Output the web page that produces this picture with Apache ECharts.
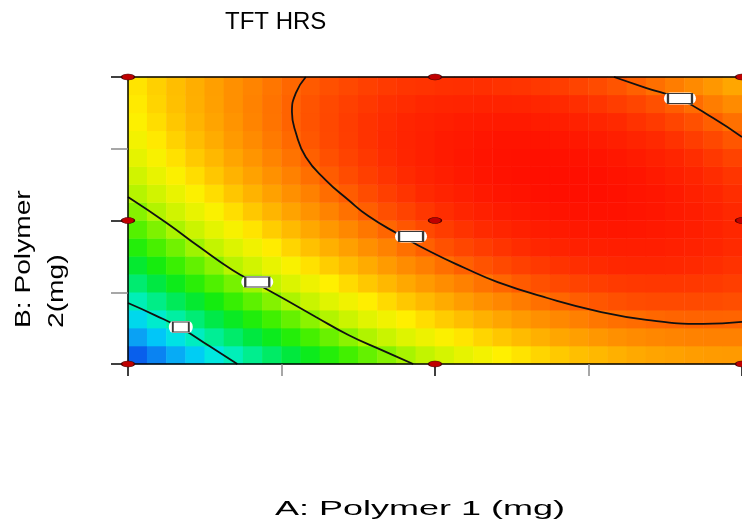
<!DOCTYPE html>
<html>
<head>
<meta charset="utf-8">
<script src="https://cdn.jsdelivr.net/npm/echarts@6/dist/echarts.min.js"></script>
<style>
html,body{margin:0;padding:0;background:#ffffff;}
#chart{width:742px;height:525px;}
</style>
</head>
<body>
<div id="chart"></div>
<script>
// Coded levels of factor A (Polymer 1) at the centre of each heatmap column
const polymer1Levels = [-0.969,-0.906,-0.844,-0.781,-0.719,-0.656,-0.594,-0.531,-0.469,-0.406,-0.344,-0.281,-0.219,-0.156,-0.094,-0.031,
                         0.031,0.094,0.156,0.219,0.281,0.344,0.406,0.469,0.531,0.594,0.656,0.719,0.781,0.844,0.906,0.969];
// Coded levels of factor B (Polymer 2) at the centre of each heatmap row (bottom to top)
const polymer2Levels = [-0.938,-0.813,-0.688,-0.563,-0.438,-0.313,-0.188,-0.063,0.063,0.188,0.313,0.438,0.563,0.688,0.813,0.938];

// TFT HRS response read from the colour field, one row per Polymer 2 level (bottom row first)
const tftRows = [
 [4.68,4.99,5.28,5.57,5.85,6.12,6.38,6.62,6.86,7.09,7.31,7.51,7.71,7.90,8.08,8.24,8.40,8.55,8.69,8.82,8.93,9.04,9.14,9.23,9.30,9.37,9.43,9.48,9.51,9.54,9.56,9.57],
 [5.20,5.50,5.79,6.07,6.34,6.59,6.84,7.08,7.31,7.53,7.74,7.93,8.12,8.30,8.47,8.63,8.78,8.91,9.04,9.16,9.27,9.37,9.46,9.53,9.60,9.66,9.71,9.75,9.77,9.79,9.80,9.80],
 [5.69,5.98,6.26,6.53,6.79,7.04,7.28,7.50,7.72,7.93,8.13,8.32,8.50,8.67,8.83,8.98,9.12,9.24,9.36,9.47,9.57,9.66,9.74,9.81,9.87,9.92,9.95,9.98,10.00,10.01,10.01,10.00],
 [6.14,6.42,6.69,6.95,7.20,7.44,7.67,7.89,8.10,8.30,8.49,8.67,8.84,9.00,9.15,9.29,9.42,9.54,9.65,9.75,9.84,9.92,9.99,10.05,10.10,10.14,10.17,10.19,10.19,10.19,10.18,10.16],
 [6.56,6.83,7.10,7.35,7.59,7.82,8.04,8.25,8.45,8.64,8.82,8.99,9.15,9.30,9.44,9.57,9.69,9.80,9.90,9.99,10.07,10.14,10.20,10.25,10.29,10.32,10.34,10.35,10.35,10.34,10.32,10.29],
 [6.95,7.21,7.46,7.70,7.93,8.16,8.37,8.57,8.76,8.94,9.11,9.27,9.42,9.56,9.70,9.82,9.93,10.03,10.12,10.20,10.27,10.33,10.38,10.42,10.45,10.48,10.49,10.49,10.48,10.46,10.43,10.39],
 [7.30,7.55,7.79,8.03,8.25,8.46,8.66,8.85,9.04,9.21,9.37,9.52,9.66,9.79,9.92,10.03,10.13,10.22,10.30,10.37,10.44,10.49,10.53,10.56,10.58,10.59,10.59,10.59,10.57,10.54,10.50,10.45],
 [7.62,7.86,8.09,8.32,8.53,8.73,8.92,9.11,9.28,9.44,9.59,9.74,9.87,9.99,10.10,10.20,10.30,10.38,10.45,10.51,10.57,10.61,10.64,10.66,10.67,10.68,10.67,10.65,10.62,10.59,10.54,10.48],
 [7.90,8.13,8.36,8.57,8.77,8.97,9.15,9.32,9.49,9.64,9.78,9.91,10.04,10.15,10.25,10.35,10.43,10.50,10.57,10.62,10.66,10.69,10.72,10.73,10.73,10.73,10.71,10.68,10.64,10.60,10.54,10.47],
 [8.15,8.37,8.59,8.79,8.98,9.17,9.34,9.51,9.66,9.80,9.94,10.06,10.17,10.28,10.37,10.46,10.53,10.59,10.65,10.69,10.72,10.75,10.76,10.76,10.76,10.74,10.71,10.68,10.63,10.57,10.51,10.43],
 [8.36,8.58,8.78,8.98,9.16,9.34,9.50,9.65,9.80,9.93,10.06,10.17,10.28,10.37,10.45,10.53,10.59,10.65,10.69,10.73,10.75,10.76,10.77,10.76,10.75,10.72,10.69,10.64,10.58,10.52,10.44,10.36],
 [8.54,8.75,8.94,9.13,9.30,9.47,9.62,9.77,9.90,10.03,10.14,10.25,10.34,10.43,10.50,10.57,10.62,10.67,10.70,10.73,10.74,10.75,10.74,10.73,10.70,10.67,10.62,10.57,10.50,10.43,10.34,10.25],
 [8.69,8.88,9.07,9.25,9.41,9.57,9.71,9.85,9.97,10.09,10.20,10.29,10.38,10.45,10.52,10.57,10.62,10.65,10.68,10.70,10.70,10.70,10.68,10.66,10.62,10.58,10.52,10.46,10.39,10.30,10.21,10.10],
 [8.80,8.98,9.16,9.33,9.48,9.63,9.77,9.89,10.01,10.12,10.21,10.30,10.38,10.44,10.50,10.54,10.58,10.61,10.62,10.63,10.63,10.61,10.59,10.55,10.51,10.46,10.39,10.32,10.23,10.14,10.04,9.92],
 [8.87,9.05,9.22,9.38,9.52,9.66,9.79,9.90,10.01,10.11,10.20,10.27,10.34,10.40,10.44,10.48,10.51,10.52,10.53,10.53,10.52,10.49,10.46,10.42,10.36,10.30,10.23,10.14,10.05,9.95,9.83,9.71],
 [8.92,9.08,9.24,9.39,9.53,9.66,9.77,9.88,9.98,10.07,10.14,10.21,10.27,10.32,10.36,10.38,10.40,10.41,10.41,10.39,10.37,10.34,10.30,10.24,10.18,10.11,10.03,9.93,9.83,9.72,9.60,9.46]
];

// Contour lines, as [A, B] in coded units
const contourLow = [[-1,-0.575],[-0.913,-0.659],[-0.828,-0.749],[-0.735,-0.875],[-0.644,-1]];
const contourMid = [[-1,0.164],[-0.874,-0.017],[-0.767,-0.185],[-0.660,-0.345],[-0.579,-0.442],[-0.485,-0.554],[-0.388,-0.672],[-0.282,-0.798],[-0.175,-0.902],[-0.071,-1]];
const contourHigh = [[-0.421,1],[-0.453,0.889],[-0.466,0.756],[-0.453,0.610],[-0.421,0.443],[-0.356,0.282],[-0.282,0.143],[-0.217,0.031],[-0.120,-0.094],[-0.013,-0.220],[0.097,-0.331],[0.204,-0.429],[0.366,-0.540],[0.528,-0.631],[0.689,-0.693],[0.874,-0.721],[1,-0.707]];
const contourHighCorner = [[0.583,1],[0.689,0.923],[0.796,0.847],[0.906,0.714],[1,0.582]];

// Contour label spots [A, B]
const labelSpots = [[-0.828,-0.742],[-0.579,-0.429],[-0.078,-0.111],[0.798,0.850]];

// Design points (3x3 factorial)
const designA = [-1, 0, 1];
const designB = [-1, 0, 1];

const FONT = '"Liberation Sans", Arial, Helvetica, sans-serif';

const heatData = [];
tftRows.forEach((row, j) => row.forEach((v, k) => heatData.push([k, j, v])));
const designData = [];
designA.forEach(a => designB.forEach(b => designData.push([a, b])));

const lineStyleC = { color: '#111111', width: 1.8 };
function contourSeries(data) {
  return {
    type: 'line', xAxisIndex: 1, yAxisIndex: 1, data: data,
    smooth: 0.5, symbol: 'none', lineStyle: lineStyleC, z: 3, silent: true
  };
}
const valueAxisCommon = {
  type: 'value', min: -1, max: 1, interval: 1, z: 5,
  axisLine: { show: true, onZero: false, lineStyle: { color: '#000', width: 1.5 } },
  axisTick: { show: true, lineStyle: { color: '#000', width: 1.5 } },
  minorTick: { show: true, splitNumber: 2, lineStyle: { color: '#8a8a8a', width: 1.5 } },
  axisLabel: { show: false }, splitLine: { show: false }, minorSplitLine: { show: false }
};

const chart = echarts.init(document.getElementById('chart'), null, { renderer: 'canvas' });
chart.setOption({
  animation: false,
  backgroundColor: '#ffffff',
  grid: { left: 128, top: 77, width: 618, height: 287, containLabel: false },
  xAxis: [
    { type: 'category', data: polymer1Levels.map(String), position: 'top', z: 5,
      axisLine: { show: true, onZero: false, lineStyle: { color: '#000', width: 1.5 } },
      axisTick: { show: false }, axisLabel: { show: false }, splitLine: { show: false } },
    Object.assign({}, valueAxisCommon, { position: 'bottom',
      axisTick: Object.assign({}, valueAxisCommon.axisTick, { length: 12 }),
      minorTick: Object.assign({}, valueAxisCommon.minorTick, { length: 12 }) })
  ],
  yAxis: [
    { type: 'category', data: polymer2Levels.map(String), position: 'right', show: false },
    Object.assign({}, valueAxisCommon, { position: 'left',
      axisTick: Object.assign({}, valueAxisCommon.axisTick, { length: 17 }),
      minorTick: Object.assign({}, valueAxisCommon.minorTick, { length: 17 }) })
  ],
  visualMap: {
    type: 'continuous', show: false, min: 4.2, max: 10.8, dimension: 2, seriesIndex: 0,
    inRange: { color: [
      '#0630e0','#0850e8','#0a70f0','#0aa0f4','#00c8f8','#00e8e0','#00f0b0','#00ec78','#00e840','#10ec10','#40f000',
      '#78f200','#b8f400','#e0f400','#fff000','#ffc800','#ffa400','#ff8000','#ff5000','#ff2800','#ff0c00'] }
  },
  series: [
    { type: 'heatmap', xAxisIndex: 0, yAxisIndex: 0, data: heatData, silent: true,
      itemStyle: { borderWidth: 0 }, emphasis: { disabled: true }, progressive: 0 },
    contourSeries(contourLow),
    contourSeries(contourMid),
    contourSeries(contourHigh),
    contourSeries(contourHighCorner),
    { type: 'scatter', xAxisIndex: 1, yAxisIndex: 1, data: labelSpots, z: 4, silent: true, clip: false,
      symbol: 'path://M6,0 L26,0 A6,6 0 0 1 26,12 L6,12 A6,6 0 0 1 6,0 Z',
      symbolSize: (v, p) => p.dataIndex === 0 ? [24, 12] : [32, 12],
      itemStyle: { color: '#ffffff', opacity: 1 } },
    { type: 'scatter', xAxisIndex: 1, yAxisIndex: 1, data: labelSpots, z: 4, silent: true, clip: false,
      symbol: 'rect',
      symbolSize: (v, p) => p.dataIndex === 0 ? [16, 10] : [24, 10],
      itemStyle: { color: '#ffffff', borderColor: '#383838', borderWidth: 1.5, opacity: 1 } },
    { type: 'scatter', xAxisIndex: 1, yAxisIndex: 1, data: designData, z: 6, silent: true, clip: false,
      symbol: 'circle', symbolSize: [13, 6],
      itemStyle: { color: '#c00000', borderColor: '#4a0000', borderWidth: 1, opacity: 1 } }
  ],
  graphic: [
    { type: 'text', x: 225, y: 22, silent: true,
      style: { text: 'TFT HRS', font: '24px ' + FONT, fill: '#000',
               textAlign: 'left', textVerticalAlign: 'middle', align: 'left', verticalAlign: 'middle' } },
    { type: 'text', x: 275, y: 509.5, scaleX: 1.8, silent: true,
      style: { text: 'A: Polymer 1 (mg)', font: '20px ' + FONT, fill: '#000',
               textAlign: 'left', textVerticalAlign: 'middle', align: 'left', verticalAlign: 'middle' } },
    { type: 'text', x: 7.6, y: 328, rotation: Math.PI / 2, scaleX: 1.28, silent: true,
      style: { text: 'B: Polymer\n2(mg)', font: '22px ' + FONT, fill: '#000', lineHeight: 32.6,
               textAlign: 'left', textVerticalAlign: 'top', align: 'left', verticalAlign: 'top' } }
  ]
});
</script>
</body>
</html>
